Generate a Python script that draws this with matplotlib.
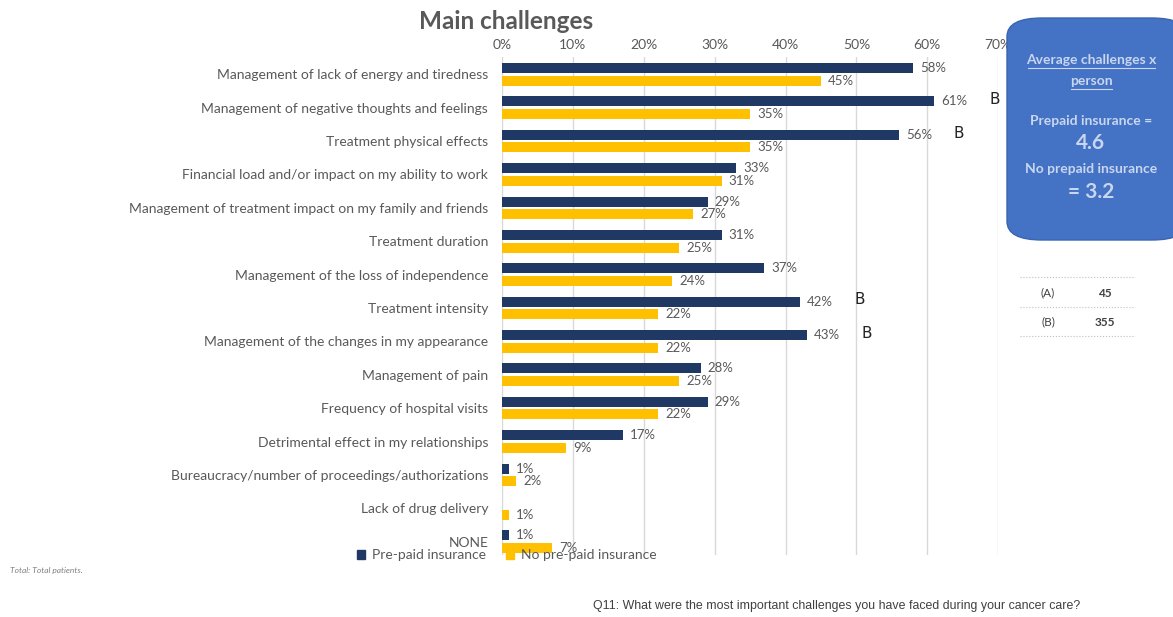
import numpy as np
import matplotlib.pyplot as plt
from matplotlib.patches import FancyBboxPatch, Patch

plt.rcParams['font.family'] = ['Lato', 'DejaVu Sans']

## data
categories = [
    "Management of lack of energy and tiredness",
    "Management of negative thoughts and feelings",
    "Treatment physical effects",
    "Financial load and/or impact on my ability to work",
    "Management of treatment impact on my family and friends",
    "Treatment duration",
    "Management of the loss of independence",
    "Treatment intensity",
    "Management of the changes in my appearance",
    "Management of pain",
    "Frequency of hospital visits",
    "Detrimental effect in my relationships",
    "Bureaucracy/number of proceedings/authorizations",
    "Lack of drug delivery",
    "NONE",
]
prepaid = [58, 61, 56, 33, 29, 31, 37, 42, 43, 28, 29, 17, 1, 0, 1]
no_prepaid = [45, 35, 35, 31, 27, 25, 24, 22, 22, 25, 22, 9, 2, 1, 7]
sig_b = [False, True, True, False, False, False, False, True, True,
         False, False, False, False, False, False]
x_ticks = [0, 10, 20, 30, 40, 50, 60, 70]
base_a = 45
base_b = 355
avg_prepaid = 4.6
avg_no_prepaid = 3.2

navy = '#1f3864'
yellow = '#ffc000'
grey = '#595959'

fig = plt.figure(figsize=(11.73, 6.17), dpi=100)
ax = fig.add_axes([0.428, 1 - 555 / 617, 0.423, 498 / 617])

n = len(categories)
ind = np.arange(n)
h = 0.30
off = 0.19

ax.barh(ind - off, prepaid, h, color=navy, zorder=3)
ax.barh(ind + off, no_prepaid, h, color=yellow, zorder=3)

for i in range(n):
    if prepaid[i] > 0:
        ax.text(prepaid[i] + 1.0, i - off, f"{prepaid[i]}%", va='center',
                ha='left', fontsize=9.5, color=grey, zorder=4)
    ax.text(no_prepaid[i] + 1.0, i + off, f"{no_prepaid[i]}%", va='center',
            ha='left', fontsize=9.5, color=grey, zorder=4)
    if sig_b[i]:
        ax.text(prepaid[i] + 7.7, i - off - 0.05, "B", va='center', ha='left',
                fontsize=11, color='#222222', family='DejaVu Sans')

ax.set_xlim(0, 70)
ax.set_ylim(14.4, -0.52)
ax.set_xticks(x_ticks)
ax.set_xticklabels([f"{t}%" for t in x_ticks], fontsize=10, color=grey)
ax.xaxis.tick_top()
ax.tick_params(axis='x', length=0, pad=4)
ax.set_yticks(ind)
ax.set_yticklabels(categories, fontsize=10, color=grey)
ax.tick_params(axis='y', length=0, pad=10)
ax.grid(axis='x', color='#d9d9d9', linewidth=1, zorder=0)
for s in ['top', 'bottom', 'left', 'right']:
    ax.spines[s].set_visible(False)

fig.text(0.357, 0.965, "Main challenges", fontsize=17.5, fontweight='bold',
         color=grey, ha='left', va='center')

## legend
handles = [Patch(color=navy), Patch(color=yellow)]
fig.legend(handles, ["Pre-paid insurance", "No pre-paid insurance"],
           loc='center', bbox_to_anchor=(0.432, 0.100), ncol=2, frameon=False,
           fontsize=10, labelcolor=grey, handlelength=0.6, handleheight=0.6,
           columnspacing=1.4, handletextpad=0.5)

## side box
box = FancyBboxPatch((1007 / 1173, 1 - 240 / 617), 180 / 1173, 222 / 617,
                     boxstyle="round,pad=0,rounding_size=0.03",
                     transform=fig.transFigure, facecolor='#4472c4',
                     edgecolor='#3a64b0', linewidth=1, zorder=5)
fig.patches.append(box)
light = '#c9d6f0'
fig.text(1091 / 1173, 1 - 60 / 617, "Average challenges x", fontsize=10,
         color=light, ha='center', va='center', fontweight='bold', zorder=6)
fig.text(1091 / 1173, 1 - 81 / 617, "person", fontsize=10, color=light,
         ha='center', va='center', fontweight='bold', zorder=6)
fig.add_artist(plt.Line2D([1028 / 1173, 1155 / 1173], [1 - 68 / 617, 1 - 68 / 617],
                          color=light, linewidth=0.8, zorder=6))
fig.add_artist(plt.Line2D([1071 / 1173, 1112 / 1173], [1 - 89 / 617, 1 - 89 / 617],
                          color=light, linewidth=0.8, zorder=6))
fig.text(1091 / 1173, 1 - 121 / 617, "Prepaid insurance =", fontsize=10,
         color=light, ha='center', va='center', fontweight='bold', zorder=6)
fig.text(1091 / 1173, 1 - 143 / 617, f"{avg_prepaid}", fontsize=15,
         color=light, ha='center', va='center', fontweight='bold', zorder=6)
fig.text(1091 / 1173, 1 - 169 / 617, "No prepaid insurance", fontsize=10,
         color=light, ha='center', va='center', fontweight='bold', zorder=6)
fig.text(1091 / 1173, 1 - 192 / 617, f"= {avg_no_prepaid}", fontsize=15,
         color=light, ha='center', va='center', fontweight='bold', zorder=6)

## base table
for yy in [277, 307, 336]:
    fig.add_artist(plt.Line2D([1020 / 1173, 1135 / 1173], [1 - yy / 617, 1 - yy / 617],
                              color='#bfbfbf', linewidth=0.8, linestyle=':'))
fig.text(1048 / 1173, 1 - 293 / 617, "(A)", fontsize=8.5, color='#404040',
         ha='center', va='center')
fig.text(1105 / 1173, 1 - 293 / 617, f"{base_a}", fontsize=8.5, color='#404040',
         ha='center', va='center', fontweight='bold')
fig.text(1048 / 1173, 1 - 322 / 617, "(B)", fontsize=8.5, color='#404040',
         ha='center', va='center')
fig.text(1105 / 1173, 1 - 322 / 617, f"{base_b}", fontsize=8.5, color='#404040',
         ha='center', va='center', fontweight='bold')

fig.text(10 / 1173, 1 - 571 / 617, "Total: Total patients.", fontsize=6,
         color='#7f7f7f', style='italic', ha='left', va='center')
fig.text(593 / 1173, 1 - 606 / 617,
         "Q11: What were the most important challenges you have faced during your cancer care?",
         fontsize=8.9, color='#404040', ha='left', va='center',
         family=['Liberation Sans Narrow', 'Liberation Sans'])

fig.savefig("out.png", dpi=100)
